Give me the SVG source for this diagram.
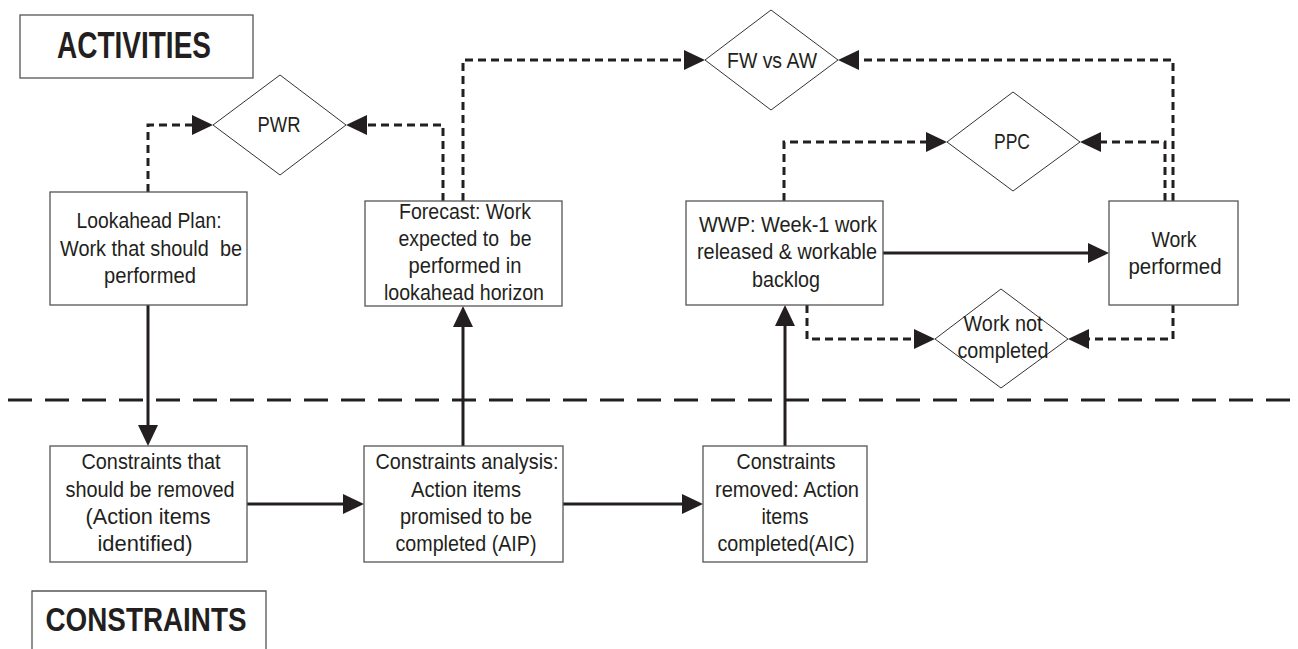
<svg xmlns="http://www.w3.org/2000/svg" width="1298" height="649" viewBox="0 0 1298 649">
<style>
.box{fill:#fff;stroke:#555;stroke-width:1.3}
.dia{fill:#fff;stroke:#333;stroke-width:1}
.t{font-family:"Liberation Sans",Arial,sans-serif;font-size:22px;fill:#231f20;text-anchor:middle}
.h{font-family:"Liberation Sans",Arial,sans-serif;font-weight:bold;fill:#231f20;text-anchor:middle}
.solid{fill:none;stroke:#231f20;stroke-width:3;marker-end:url(#ah)}
.dash{fill:none;stroke:#231f20;stroke-width:3;stroke-dasharray:8 5;marker-end:url(#ah)}
.sep{fill:none;stroke:#231f20;stroke-width:3;stroke-dasharray:24 13}
</style>
<defs>
<marker id="ah" markerUnits="userSpaceOnUse" markerWidth="22" markerHeight="22" refX="11" refY="10" orient="auto" viewBox="0 0 22 20">
<path d="M0,0 L21,10 L0,20 z" fill="#231f20"/>
</marker>
</defs>
<rect width="1298" height="649" fill="#fff"/>

<g id="title-activities">
<rect class="box" x="20" y="15" width="233" height="63"/>
<text class="h" x="134" y="58" font-size="36" textLength="154" lengthAdjust="spacingAndGlyphs">ACTIVITIES</text>
</g>
<g id="title-constraints">
<path class="box" d="M32,652 V591 H266 V652" fill="none"/>
<text class="h" x="146" y="631" font-size="34" textLength="201" lengthAdjust="spacingAndGlyphs">CONSTRAINTS</text>
</g>

<g id="connectors">
<path class="sep" d="M8,400 H1298"/>
<path class="dash" d="M148,192 V125 H203"/>
<path class="dash" d="M443,201 V125 H356"/>
<path class="dash" d="M463,201 V60 H695"/>
<path class="dash" d="M1173,201 V60 H848"/>
<path class="dash" d="M784,201 V142 H937"/>
<path class="dash" d="M1165,201 V142 H1090"/>
<path class="dash" d="M807,305 V339 H925"/>
<path class="dash" d="M1173,305 V339 H1078"/>
<path class="solid" d="M883,253 H1099"/>
<path class="solid" d="M148,305 V436"/>
<path class="solid" d="M247,504 H354"/>
<path class="solid" d="M463,446 V316"/>
<path class="solid" d="M563,504 H693"/>
<path class="solid" d="M785,446 V315"/>
</g>

<g id="pwr">
<polygon class="dia" points="213,125 280,75 346,125 280,175"/>
<text class="t" x="279" y="132" textLength="43" lengthAdjust="spacingAndGlyphs">PWR</text>
</g>
<g id="fwvsaw">
<polygon class="dia" points="705,60 771,10 838,60 771,110"/>
<text class="t" x="772" y="68" textLength="90" lengthAdjust="spacingAndGlyphs">FW vs AW</text>
</g>
<g id="ppc">
<polygon class="dia" points="947,142 1013,92 1080,142 1013,191"/>
<text class="t" x="1012" y="149" textLength="36" lengthAdjust="spacingAndGlyphs">PPC</text>
</g>
<g id="work-not-completed">
<polygon class="dia" points="935,339 1001,289 1068,339 1001,388"/>
<text class="t" x="1003" y="331" textLength="79" lengthAdjust="spacingAndGlyphs">Work not</text>
<text class="t" x="1003" y="358" textLength="91" lengthAdjust="spacingAndGlyphs">completed</text>
</g>

<g id="lookahead">
<rect class="box" x="50" y="192" width="197" height="113"/>
<text class="t" x="149" y="228" textLength="145" lengthAdjust="spacingAndGlyphs">Lookahead Plan:</text>
<text class="t" x="151" y="256" textLength="182" lengthAdjust="spacingAndGlyphs" xml:space="preserve">Work that should  be</text>
<text class="t" x="150" y="283" textLength="92" lengthAdjust="spacingAndGlyphs">performed</text>
</g>
<g id="forecast">
<rect class="box" x="365" y="201" width="197" height="105"/>
<text class="t" x="465" y="219" textLength="132" lengthAdjust="spacingAndGlyphs">Forecast: Work</text>
<text class="t" x="465" y="246" textLength="133" lengthAdjust="spacingAndGlyphs" xml:space="preserve">expected to  be</text>
<text class="t" x="465" y="273" textLength="113" lengthAdjust="spacingAndGlyphs">performed in</text>
<text class="t" x="464" y="300" textLength="160" lengthAdjust="spacingAndGlyphs">lookahead horizon</text>
</g>
<g id="wwp">
<rect class="box" x="686" y="201" width="197" height="104"/>
<text class="t" x="788" y="232" textLength="178" lengthAdjust="spacingAndGlyphs">WWP: Week-1 work</text>
<text class="t" x="787" y="259" textLength="180" lengthAdjust="spacingAndGlyphs">released &amp; workable</text>
<text class="t" x="786" y="287" textLength="68" lengthAdjust="spacingAndGlyphs">backlog</text>
</g>
<g id="work-performed">
<rect class="box" x="1109" y="201" width="129" height="104"/>
<text class="t" x="1174" y="247" textLength="45" lengthAdjust="spacingAndGlyphs">Work</text>
<text class="t" x="1175" y="274" textLength="93" lengthAdjust="spacingAndGlyphs">performed</text>
</g>
<g id="constraints-identified">
<rect class="box" x="50" y="446" width="197" height="116"/>
<text class="t" x="151" y="469" textLength="139" lengthAdjust="spacingAndGlyphs">Constraints that</text>
<text class="t" x="150" y="497" textLength="169" lengthAdjust="spacingAndGlyphs">should be removed</text>
<text class="t" x="148" y="524" textLength="125" lengthAdjust="spacingAndGlyphs">(Action items</text>
<text class="t" x="145" y="551" textLength="95" lengthAdjust="spacingAndGlyphs">identified)</text>
</g>
<g id="constraints-analysis">
<rect class="box" x="364" y="446" width="199" height="116"/>
<text class="t" x="467" y="469" textLength="183" lengthAdjust="spacingAndGlyphs">Constraints analysis:</text>
<text class="t" x="466" y="497" textLength="110" lengthAdjust="spacingAndGlyphs">Action items</text>
<text class="t" x="466" y="524" textLength="132" lengthAdjust="spacingAndGlyphs">promised to be</text>
<text class="t" x="466" y="551" textLength="141" lengthAdjust="spacingAndGlyphs">completed (AIP)</text>
</g>
<g id="constraints-removed">
<rect class="box" x="703" y="446" width="164" height="116"/>
<text class="t" x="786" y="469" textLength="99" lengthAdjust="spacingAndGlyphs">Constraints</text>
<text class="t" x="787" y="497" textLength="144" lengthAdjust="spacingAndGlyphs">removed: Action</text>
<text class="t" x="785" y="524" textLength="47" lengthAdjust="spacingAndGlyphs">items</text>
<text class="t" x="786" y="551" textLength="137" lengthAdjust="spacingAndGlyphs">completed(AIC)</text>
</g>
</svg>
